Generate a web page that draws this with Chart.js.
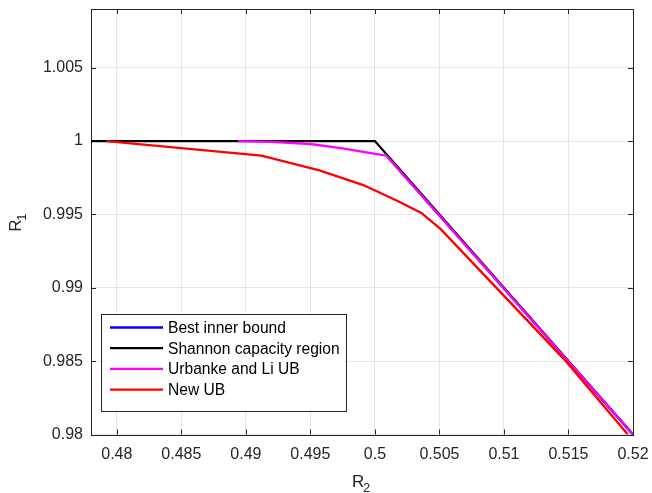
<!DOCTYPE html>
<html>
<head>
<meta charset="utf-8">
<script src="https://cdn.jsdelivr.net/npm/chart.js@4.4.1/dist/chart.umd.min.js"></script>
<style>
  html, body { margin: 0; padding: 0; background: #fff; }
  #wrap { width: 652px; height: 493px; }
</style>
</head>
<body>
<div id="wrap"><canvas id="myChart" width="652" height="493"></canvas></div>
<script>
// axis ticks
const r2Ticks = [0.48, 0.485, 0.49, 0.495, 0.5, 0.505, 0.51, 0.515, 0.52];
const r1Ticks = [0.98, 0.985, 0.99, 0.995, 1, 1.005];

// series (R2 on x, R1 on y)
const innerR2 = [0.5009, 0.52];
const innerR1 = [0.999, 0.98];

const shannonR2 = [0.478, 0.5, 0.52];
const shannonR1 = [1, 1, 0.98];

const urbankeR2 = [0.4894, 0.492, 0.495, 0.4975, 0.4998, 0.5009, 0.52];
const urbankeR1 = [1, 0.99995, 0.9998, 0.9995, 0.99916, 0.999, 0.98];

const newR2 = [0.4792, 0.4912, 0.4957, 0.4991, 0.5018, 0.5036, 0.5051, 0.5148, 0.5196];
const newR1 = [1, 0.999, 0.998, 0.997, 0.9959, 0.9951, 0.994, 0.985, 0.98];

const labels = ["Best inner bound", "Shannon capacity region", "Urbanke and Li UB", "New UB"];
const colors = ["#0000ff", "#000000", "#ff00ff", "#ff0000"];

const axisColor = "#262626";
const gridColor = "#e6e6e6";
const fontFamily = "'Liberation Sans', Arial, Helvetica, sans-serif";

const toPoints = (xs, ys) => xs.map((x, i) => ({ x: x, y: ys[i] }));

const seriesX = [innerR2, shannonR2, urbankeR2, newR2];
const seriesY = [innerR1, shannonR1, urbankeR1, newR1];

const datasets = labels.map((label, i) => ({
  label: label,
  data: toPoints(seriesX[i], seriesY[i]),
  borderColor: colors[i],
  backgroundColor: colors[i],
  borderWidth: 2.3,
  pointRadius: 0,
  tension: 0,
  fill: false,
  order: labels.length - i, // later series drawn on top
}));

// frame, inward ticks, axis titles and legend, MATLAB style
const matlabAxes = {
  id: "matlabAxes",
  beforeDatasetsDraw(chart) {
    const { ctx, chartArea: a, scales } = chart;
    ctx.save();
    ctx.strokeStyle = axisColor;
    ctx.lineWidth = 1;
    ctx.strokeRect(Math.round(a.left) + 0.5, Math.round(a.top) + 0.5,
      Math.round(a.right - a.left), Math.round(a.bottom - a.top));
    ctx.beginPath();
    r2Ticks.forEach((v) => {
      const px = Math.round(scales.x.getPixelForValue(v)) + 0.5;
      ctx.moveTo(px, a.bottom); ctx.lineTo(px, a.bottom - 5);
      ctx.moveTo(px, a.top); ctx.lineTo(px, a.top + 5);
    });
    r1Ticks.forEach((v) => {
      const py = Math.round(scales.y.getPixelForValue(v)) + 0.5;
      ctx.moveTo(a.left, py); ctx.lineTo(a.left + 5, py);
      ctx.moveTo(a.right, py); ctx.lineTo(a.right - 5, py);
    });
    ctx.stroke();
    ctx.restore();
  },
  afterDraw(chart) {
    const { ctx, chartArea: a } = chart;
    ctx.save();
    ctx.fillStyle = axisColor;
    ctx.textBaseline = "alphabetic";

    // x title R_2
    const cx = (a.left + a.right) / 2;
    ctx.font = "17px " + fontFamily;
    ctx.fillText("R", cx - 10, 487);
    ctx.font = "13px " + fontFamily;
    ctx.fillText("2", cx + 1, 492);

    // y title R_1 (rotated)
    ctx.translate(21, (a.top + a.bottom) / 2);
    ctx.rotate(-Math.PI / 2);
    ctx.font = "17px " + fontFamily;
    ctx.fillText("R", -10, 0);
    ctx.font = "13px " + fontFamily;
    ctx.fillText("1", 1, 5);
    ctx.restore();

    // legend box
    ctx.save();
    const lx = a.left + 10, ly = a.bottom - 121, lw = 245, lh = 97;
    ctx.fillStyle = "#fff";
    ctx.fillRect(lx, ly, lw, lh);
    ctx.strokeStyle = axisColor;
    ctx.lineWidth = 1;
    ctx.strokeRect(Math.round(lx) + 0.5, Math.round(ly) + 0.5, lw, lh);
    ctx.font = "15.6px " + fontFamily;
    ctx.textBaseline = "middle";
    chart.data.datasets.forEach((ds, i) => {
      const y = ly + 14 + i * 20.7;
      ctx.strokeStyle = ds.borderColor;
      ctx.lineWidth = 2.3;
      ctx.beginPath();
      ctx.moveTo(lx + 9, y); ctx.lineTo(lx + 62, y);
      ctx.stroke();
      ctx.fillStyle = "#000";
      ctx.fillText(ds.label, lx + 67, y + 1);
    });
    ctx.restore();
  },
};

const ctx = document.getElementById("myChart").getContext("2d");

const myChart = new Chart(ctx, {
  type: "line",
  data: { datasets: datasets },
  plugins: [matlabAxes],
  options: {
    responsive: false,
    devicePixelRatio: 1,
    animation: false,
    layout: { padding: { left: 0, right: 19, top: 9, bottom: 0 } },
    plugins: {
      legend: { display: false },
      tooltip: { enabled: false },
    },
    scales: {
      x: {
        type: "linear",
        min: 0.478,
        max: 0.52,
        afterBuildTicks: (s) => { s.ticks = r2Ticks.map((v) => ({ value: v })); },
        afterFit: (s) => { s.height = 58.5; s.paddingLeft = 0; s.paddingRight = 0; },
        grid: { color: gridColor, drawTicks: false },
        border: { display: false },
        ticks: {
          color: axisColor,
          padding: 10,
          maxRotation: 0,
          autoSkip: false,
          font: { family: fontFamily, size: 16 },
          callback: (v) => String(v),
        },
      },
      y: {
        type: "linear",
        min: 0.98,
        max: 1.009,
        afterBuildTicks: (s) => { s.ticks = r1Ticks.map((v) => ({ value: v })); },
        afterFit: (s) => { s.width = 91; s.paddingTop = 0; s.paddingBottom = 0; },
        grid: { color: gridColor, drawTicks: false },
        border: { display: false },
        ticks: {
          color: axisColor,
          padding: 8,
          autoSkip: false,
          font: { family: fontFamily, size: 16 },
          callback: (v) => String(v),
        },
      },
    },
  },
});
</script>
</body>
</html>
